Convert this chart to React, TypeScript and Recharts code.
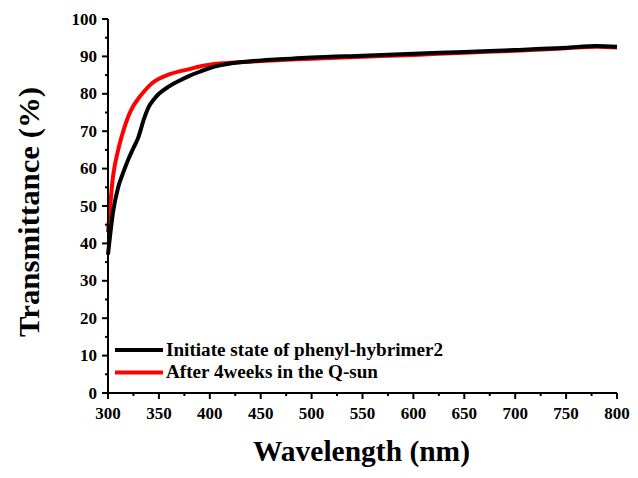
import React from "react";
import { LineChart, Line, XAxis, YAxis } from "recharts";

// wavelength (nm) and transmittance (%)
const wavelengths = [300, 305, 310, 315, 320, 325, 330, 335, 340, 345, 350, 360, 370, 380, 390, 400, 410, 420, 440, 460, 480, 500, 550, 600, 650, 700, 750, 780, 800];
const initialState = [37, 48.5, 55, 59, 62.5, 65.5, 68.5, 73, 76.5, 78.5, 80, 82, 83.5, 84.8, 85.9, 86.9, 87.6, 88.1, 88.7, 89.1, 89.4, 89.7, 90.2, 90.7, 91.2, 91.7, 92.3, 92.8, 92.6];
const after4weeks = [43, 58, 65, 70, 74, 76.8, 78.8, 80.5, 82, 83.2, 84, 85.2, 86, 86.6, 87.3, 87.8, 88.1, 88.3, 88.6, 88.9, 89.2, 89.4, 89.9, 90.4, 91.0, 91.5, 92.2, 92.6, 92.4];

const xTicks = [300, 325, 350, 375, 400, 425, 450, 475, 500, 525, 550, 575, 600, 625, 650, 675, 700, 725, 750, 775, 800];
const yTicks = [0, 5, 10, 15, 20, 25, 30, 35, 40, 45, 50, 55, 60, 65, 70, 75, 80, 85, 90, 95, 100];

const legendNames = ["Initiate state of phenyl-hybrimer2", "After 4weeks in the Q-sun"];
const COLORS = ["#000000", "#ff0000"];

const FONT = "'Liberation Serif', 'Times New Roman', serif";

const data = wavelengths.map((w, i) => ({ w, black: initialState[i], red: after4weeks[i] }));

const XTick = (props: any) => {
  const { x, y, payload } = props;
  const major = payload.value % 50 === 0;
  return (
    <g>
      <line x1={x} y1={y} x2={x} y2={y + (major ? 6 : 3)} stroke="#000" strokeWidth={2} />
      {major && (
        <text x={x} y={y + 26} textAnchor="middle" style={{ fontFamily: FONT, fontWeight: "bold", fontSize: 17 }} fill="#000">
          {payload.value}
        </text>
      )}
    </g>
  );
};

const YTick = (props: any) => {
  const { x, y, payload } = props;
  const major = payload.value % 10 === 0;
  return (
    <g>
      <line x1={x} y1={y} x2={x - (major ? 6 : 3)} y2={y} stroke="#000" strokeWidth={2} />
      {major && (
        <text x={x - 11} y={y + 5.5} textAnchor="end" style={{ fontFamily: FONT, fontWeight: "bold", fontSize: 17 }} fill="#000">
          {payload.value}
        </text>
      )}
    </g>
  );
};

export default function App() {
  return (
    <div style={{ position: "absolute", left: 0, top: 0, width: 638, height: 478, background: "#fff" }}>
      <LineChart width={638} height={478} data={data} margin={{ top: 19, right: 21, bottom: 0, left: 0 }}>
        <XAxis
          dataKey="w"
          type="number"
          domain={[300, 800]}
          ticks={xTicks}
          interval={0}
          tickLine={false}
          tickSize={0}
          tickMargin={0}
          tick={<XTick />}
          axisLine={{ stroke: "#000", strokeWidth: 2 }}
          height={85}
        />
        <XAxis xAxisId="top" dataKey="w" type="number" domain={[300, 800]} orientation="top" tick={false} tickLine={false} height={0} axisLine={{ stroke: "#000", strokeWidth: 2 }} />
        <YAxis
          type="number"
          domain={[0, 100]}
          ticks={yTicks}
          interval={0}
          tickLine={false}
          tickSize={0}
          tickMargin={0}
          tick={<YTick />}
          axisLine={{ stroke: "#000", strokeWidth: 2 }}
          width={108}
        />
        <YAxis yAxisId="right" orientation="right" domain={[0, 100]} tick={false} tickLine={false} width={0} axisLine={{ stroke: "#000", strokeWidth: 2 }} />
        <Line dataKey="red" type="monotone" stroke={COLORS[1]} strokeWidth={4} dot={false} isAnimationActive={false} />
        <Line dataKey="black" type="monotone" stroke={COLORS[0]} strokeWidth={4} dot={false} isAnimationActive={false} />
      </LineChart>
      <svg width={638} height={478} style={{ position: "absolute", left: 0, top: 0, pointerEvents: "none" }}>
        {legendNames.map((name, i) => (
          <g key={name}>
            <line x1={115} x2={163} y1={350 + i * 22.5} y2={350 + i * 22.5} stroke={COLORS[i]} strokeWidth={4} />
            <text
              x={166}
              y={355.5 + i * 22.5}
              textLength={i === 0 ? 277 : 212}
              lengthAdjust="spacingAndGlyphs"
              style={{ fontFamily: FONT, fontWeight: "bold", fontSize: 18 }}
              fill="#000"
            >
              {name}
            </text>
          </g>
        ))}
        <text
          x={253}
          y={461}
          textLength={217}
          lengthAdjust="spacingAndGlyphs"
          style={{ fontFamily: FONT, fontWeight: "bold", fontSize: 29 }}
          fill="#000"
        >
          Wavelength (nm)
        </text>
        <text
          x={0}
          y={0}
          transform="translate(38.5,337) rotate(-90)"
          textLength={250}
          lengthAdjust="spacingAndGlyphs"
          style={{ fontFamily: FONT, fontWeight: "bold", fontSize: 29 }}
          fill="#000"
        >
          Transmittance (%)
        </text>
      </svg>
    </div>
  );
}
